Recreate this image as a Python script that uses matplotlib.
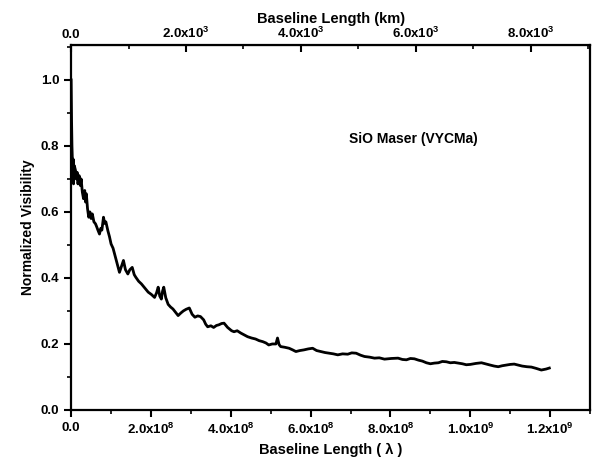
import numpy as np
import matplotlib
matplotlib.use("Agg")
import matplotlib.pyplot as plt
from matplotlib.ticker import MultipleLocator, FixedLocator

plt.rcParams['font.family'] = ['Liberation Sans', 'DejaVu Sans']
plt.rcParams['font.weight'] = 'bold'
plt.rcParams['mathtext.fontset'] = 'custom'
plt.rcParams['mathtext.rm'] = 'Liberation Sans:bold'
plt.rcParams['mathtext.bf'] = 'Liberation Sans:bold'
plt.rcParams['mathtext.default'] = 'bf'

# baseline length in units of 1e8 wavelengths, normalized visibility
baseline_1e8 = [
    0.00, 0.005, 0.01, 0.02, 0.03, 0.04, 0.05, 0.06, 0.08, 0.11, 0.13, 0.15,
    0.17, 0.20, 0.23, 0.25, 0.28, 0.31, 0.34, 0.36, 0.38, 0.41, 0.44, 0.47,
    0.50, 0.53, 0.57, 0.61, 0.64, 0.67, 0.71, 0.74, 0.77, 0.81, 0.84, 0.87,
    0.92, 0.96, 1.00, 1.05, 1.11, 1.16, 1.21, 1.26, 1.31, 1.36, 1.42, 1.47,
    1.53, 1.58, 1.62, 1.69, 1.76, 1.84, 1.93, 2.01, 2.09, 2.14, 2.18, 2.22,
    2.26, 2.29, 2.32, 2.37, 2.43, 2.49, 2.55, 2.62, 2.68, 2.75, 2.81, 2.88,
    2.96, 3.03, 3.10, 3.17, 3.24, 3.32, 3.37, 3.42, 3.50, 3.57, 3.64, 3.70,
    3.77, 3.83, 3.92, 4.02, 4.08, 4.16, 4.25, 4.33, 4.42, 4.52, 4.62, 4.71,
    4.80, 4.88, 4.95, 5.04, 5.13, 5.17, 5.21, 5.25, 5.35, 5.46, 5.55, 5.63,
    5.73, 5.83, 5.94, 6.05, 6.15, 6.26, 6.36, 6.46, 6.57, 6.68, 6.80, 6.93,
    7.03, 7.14, 7.25, 7.35, 7.48, 7.60, 7.72, 7.85, 8.02, 8.19, 8.30, 8.40,
    8.50, 8.60, 8.70, 8.80, 8.90, 9.00, 9.10, 9.20, 9.30, 9.40, 9.50, 9.60,
    9.70, 9.80, 9.90, 10.00, 10.14, 10.28, 10.40, 10.50, 10.60, 10.70, 10.80,
    10.90, 11.00, 11.10, 11.20, 11.30, 11.42, 11.53, 11.65, 11.78, 11.90, 11.98]
visibility = [
    1.00, 0.93, 0.877, 0.80, 0.756, 0.72, 0.76, 0.685, 0.74, 0.725, 0.70, 0.72,
    0.685, 0.71, 0.68, 0.700, 0.66, 0.640, 0.665, 0.63, 0.655, 0.61, 0.584, 0.60,
    0.58, 0.594, 0.57, 0.564, 0.555, 0.545, 0.533, 0.55, 0.545, 0.584, 0.565, 0.57,
    0.543, 0.525, 0.503, 0.49, 0.463, 0.44, 0.417, 0.435, 0.453, 0.425, 0.412, 0.425,
    0.432, 0.41, 0.402, 0.39, 0.382, 0.37, 0.357, 0.35, 0.341, 0.355, 0.372, 0.345,
    0.336, 0.36, 0.372, 0.34, 0.320, 0.312, 0.306, 0.295, 0.286, 0.294, 0.300, 0.305,
    0.309, 0.29, 0.281, 0.285, 0.283, 0.273, 0.26, 0.252, 0.255, 0.250, 0.256, 0.258,
    0.262, 0.263, 0.25, 0.240, 0.237, 0.240, 0.233, 0.228, 0.222, 0.218, 0.215, 0.21,
    0.207, 0.203, 0.197, 0.20, 0.200, 0.218, 0.198, 0.192, 0.19, 0.187, 0.182, 0.177,
    0.18, 0.182, 0.185, 0.187, 0.18, 0.177, 0.174, 0.172, 0.170, 0.167, 0.170, 0.169,
    0.173, 0.172, 0.166, 0.162, 0.16, 0.157, 0.158, 0.154, 0.156, 0.157, 0.153, 0.152,
    0.156, 0.155, 0.151, 0.148, 0.143, 0.140, 0.142, 0.143, 0.147, 0.146, 0.143, 0.144,
    0.142, 0.140, 0.137, 0.138, 0.141, 0.143, 0.139, 0.136, 0.133, 0.131, 0.134,
    0.136, 0.138, 0.139, 0.136, 0.133, 0.131, 0.130, 0.126, 0.121, 0.124, 0.127]

bottom_ticks = [0, 2e8, 4e8, 6e8, 8e8, 1.0e9, 1.2e9]
bottom_labels = ['0.0', '2.0x10$^8$', '4.0x10$^8$', '6.0x10$^8$', '8.0x10$^8$',
                 '1.0x10$^9$', '1.2x10$^9$']
top_ticks = [0, 2000, 4000, 6000, 8000]
top_labels = ['0.0', '2.0x10$^3$', '4.0x10$^3$', '6.0x10$^3$', '8.0x10$^3$']

wavelength_km = 6.95e-6  # SiO 43 GHz


def lam2km(x):
    return x * wavelength_km


def km2lam(x):
    return x / wavelength_km


fig = plt.figure(figsize=(5.93, 4.68), dpi=100)
ax = fig.add_axes([0.12, 0.124, 0.875, 0.78])

x = np.array(baseline_1e8) * 1e8
ax.plot(x, visibility, color='black', linewidth=2.0)

ax.set_xlim(0, 1.3e9)
ax.set_ylim(0, 1.106)

ax.set_xticks(bottom_ticks)
ax.set_xticklabels(bottom_labels)
ax.xaxis.set_minor_locator(MultipleLocator(1e8))
ax.yaxis.set_major_locator(MultipleLocator(0.2))
ax.yaxis.set_minor_locator(MultipleLocator(0.1))
ax.set_yticklabels([f'{v:.1f}' for v in ax.get_yticks()])

ax.tick_params(which='major', direction='out', length=5, width=1.5, labelsize=9.5)
ax.tick_params(which='minor', direction='out', length=3, width=1.2)
for s in ax.spines.values():
    s.set_linewidth(1.6)

ax.set_xlabel('Baseline Length ( λ )', fontsize=10.5, fontweight='bold')
ax.set_ylabel('Normalized Visibility', fontsize=10, fontweight='bold')

top = ax.secondary_xaxis('top', functions=(lam2km, km2lam))
top.set_xticks(top_ticks)
top.set_xticklabels(top_labels)
top.xaxis.set_minor_locator(FixedLocator([1000, 3000, 5000, 7000, 9000]))
top.tick_params(which='major', direction='in', length=5, width=1.5, labelsize=9.5, pad=3)
top.tick_params(which='minor', direction='in', length=3, width=1.2)
top.set_xlabel('Baseline Length (km)', fontsize=10.5, fontweight='bold', labelpad=2)

ax.text(6.96e8, 0.82, 'SiO Maser (VYCMa)', fontsize=10, fontweight='bold',
        ha='left', va='center')

fig.savefig('out.png', dpi=100)
